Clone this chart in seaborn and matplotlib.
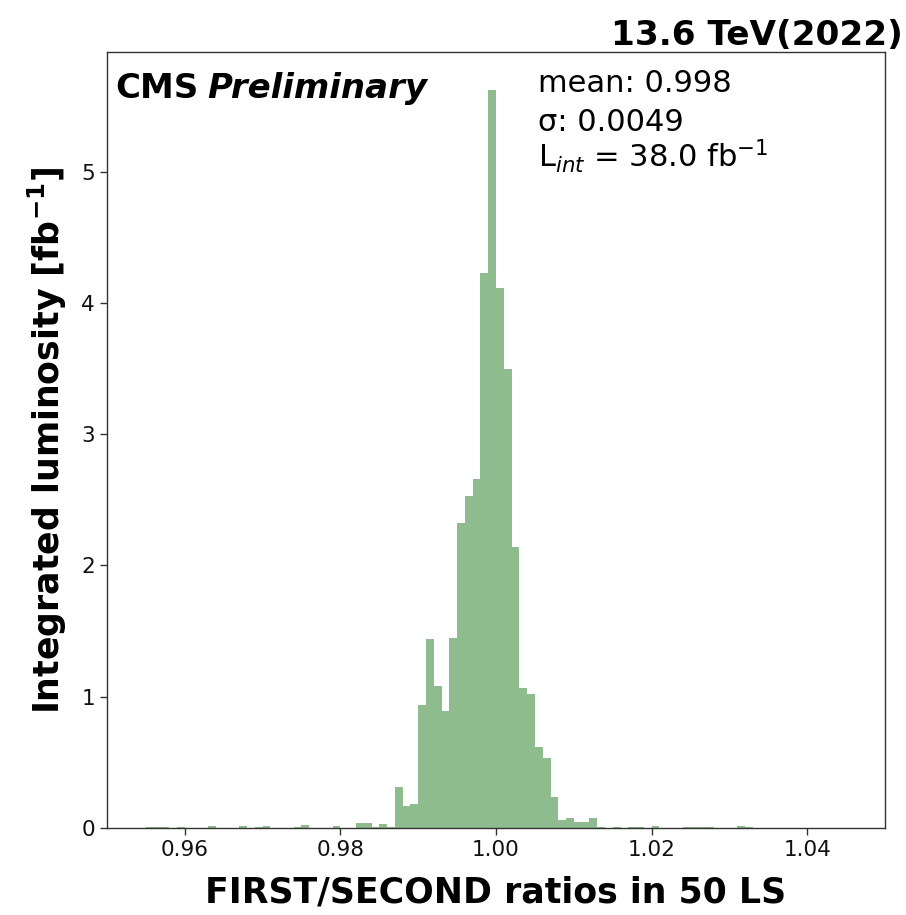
import numpy as np
import pandas as pd
import matplotlib
matplotlib.use("Agg")
import matplotlib.pyplot as plt
import seaborn as sns

# bin left edges (ratio) and integrated luminosity per bin [fb^-1]
bin_left = [0.955, 0.956, 0.957, 0.959, 0.963, 0.967, 0.969, 0.970, 0.974, 0.975,
            0.979, 0.982, 0.983, 0.984, 0.985, 0.986, 0.987, 0.988, 0.989, 0.990,
            0.991, 0.992, 0.993, 0.994, 0.995, 0.996, 0.997, 0.998, 0.999, 1.000,
            1.001, 1.002, 1.003, 1.004, 1.005, 1.006, 1.007, 1.008, 1.009, 1.010,
            1.011, 1.012, 1.013, 1.015, 1.017, 1.018, 1.020, 1.024, 1.025, 1.026,
            1.027, 1.031, 1.032]
lumi = [0.01, 0.01, 0.01, 0.01, 0.015, 0.012, 0.01, 0.012, 0.01, 0.02,
        0.012, 0.04, 0.04, 0.01, 0.03, 0.01, 0.31, 0.17, 0.18, 0.94,
        1.44, 1.08, 0.89, 1.45, 2.32, 2.53, 2.66, 4.23, 5.62, 4.11,
        3.50, 2.14, 1.07, 1.02, 0.62, 0.53, 0.24, 0.06, 0.08, 0.045,
        0.05, 0.08, 0.005, 0.01, 0.01, 0.01, 0.012, 0.01, 0.01, 0.01,
        0.01, 0.012, 0.01]
x_ticks = [0.96, 0.98, 1.00, 1.02, 1.04]
y_ticks = [0, 1, 2, 3, 4, 5]

bin_width = 0.001
df = pd.DataFrame({"ratio": np.array(bin_left) + bin_width / 2, "lumi": lumi})

sns.set_style("ticks")
plt.rcParams["font.family"] = ["DejaVu Sans"]
plt.rcParams["mathtext.fontset"] = "dejavusans"
plt.rcParams["text.color"] = "black"
plt.rcParams["axes.labelcolor"] = "black"
plt.rcParams["xtick.color"] = "black"
plt.rcParams["ytick.color"] = "black"

fig = plt.figure(figsize=(9.06, 9.15), dpi=100)
ax = fig.add_axes([0.118, 0.095, 0.859, 0.848])

sns.histplot(data=df, x="ratio", weights="lumi", binwidth=bin_width,
             binrange=(0.95, 1.05), element="step",
             fill=True, color="#8fbc8f", alpha=1.0, linewidth=0, ax=ax)

ax.set_xlim(0.95, 1.05)
ax.set_ylim(0, 5.91)
ax.set_xticks(x_ticks)
ax.set_xticklabels([f"{t:.2f}" for t in x_ticks])
ax.set_yticks(y_ticks)
ax.tick_params(axis="both", labelsize=15.5, length=5, width=1, direction="out",
               color="#333333", labelcolor="#111111")
for s in ax.spines.values():
    s.set_visible(True)
    s.set_color("#333333")
    s.set_linewidth(1.0)

ax.set_xlabel("FIRST/SECOND ratios in 50 LS", fontsize=25, fontweight="bold",
              labelpad=11)
ax.set_ylabel(r"Integrated luminosity [fb$^{\mathbf{-1}}$]", fontsize=25,
              fontweight="bold", labelpad=9)

ax.text(0.011, 0.941, "CMS", transform=ax.transAxes, fontsize=24.5,
        fontweight="bold", ha="left", va="baseline")
ax.text(0.1285, 0.941, "Preliminary", transform=ax.transAxes, fontsize=24.5,
        fontweight="bold", fontstyle="italic", ha="left", va="baseline")

ax.text(0.554, 0.949, "mean: 0.998", transform=ax.transAxes, fontsize=22,
        ha="left", va="baseline")
ax.text(0.554, 0.898, "σ: 0.0049", transform=ax.transAxes, fontsize=22,
        ha="left", va="baseline")
ax.text(0.554, 0.851, r"L$_{int}$ = 38.0 fb$^{-1}$", transform=ax.transAxes,
        fontsize=22, ha="left", va="baseline")

fig.text(0.997, 0.951, "13.6 TeV(2022)", fontsize=24.7, fontweight="bold",
         ha="right", va="baseline")

fig.savefig("out.png", dpi=100)
